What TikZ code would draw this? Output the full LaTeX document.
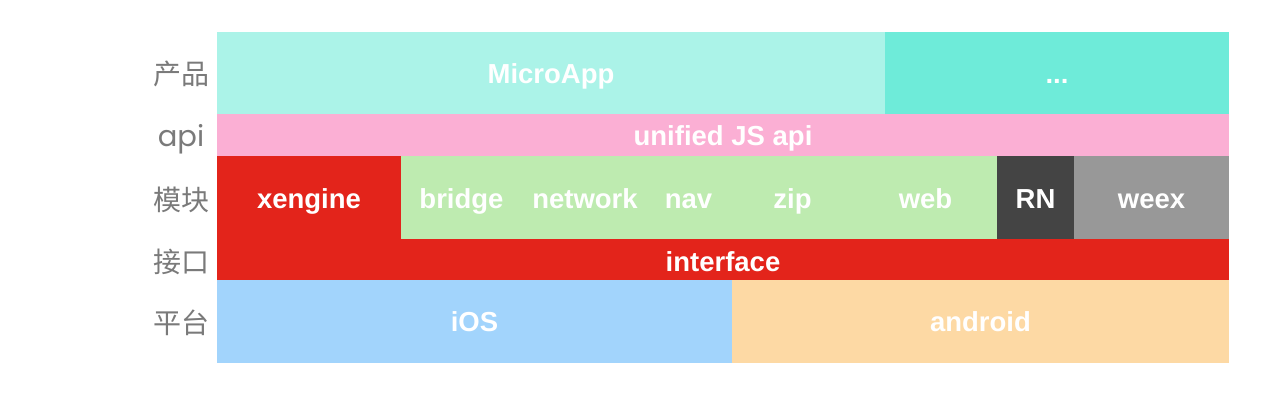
\documentclass[tikz,border=0pt]{standalone}
\usepackage{fontspec}
\setmainfont{Liberation Sans}
\newfontfamily\cjkfont{Noto Sans CJK SC}
\newfontfamily\apifont{Poppins}
\definecolor{cMicro}{HTML}{ABF3E8}
\definecolor{cDots}{HTML}{6EEBD9}
\definecolor{cPink}{HTML}{FBAFD4}
\definecolor{cRed}{HTML}{E3241B}
\definecolor{cGreen}{HTML}{BEEBB0}
\definecolor{cRN}{HTML}{444444}
\definecolor{cWeex}{HTML}{989898}
\definecolor{cIOS}{HTML}{A2D4FC}
\definecolor{cAndroid}{HTML}{FDD9A4}
\definecolor{cSide}{HTML}{7A7A7A}
\begin{document}
\begin{tikzpicture}[x=1pt,y=-1pt,
  blk/.style={draw=none, inner sep=0pt, outer sep=0pt},
  lbl/.style={text=white, font=\fontsize{27.5}{30}\selectfont\bfseries, anchor=base, inner sep=0pt},
  side/.style={text=cSide, font=\cjkfont\fontsize{28}{30}\selectfont, inner sep=0pt, anchor=east},
  sideapi/.style={text=cSide, font=\apifont\fontsize{29}{30}\selectfont, inner sep=0pt, anchor=base}]
\fill[white] (0,0) rectangle (1279,410);
\useasboundingbox (0,0) rectangle (1279,410);
% row 1
\node[blk, fill=cMicro, minimum width=668pt, minimum height=82pt] (microapp) at (551,73) {};
\node[blk, fill=cDots, minimum width=344pt, minimum height=82pt] (dots) at (1057,73) {};
% row 2
\node[blk, fill=cPink, minimum width=1012pt, minimum height=42pt] (api) at (723,135) {};
% row 3
\node[blk, fill=cRed, minimum width=184pt, minimum height=83pt] (xengine) at (309,197.5) {};
\node[blk, fill=cGreen, minimum width=596pt, minimum height=83pt] (green) at (699,197.5) {};
\node[blk, fill=cRN, minimum width=77pt, minimum height=83pt] (rn) at (1035.5,197.5) {};
\node[blk, fill=cWeex, minimum width=155pt, minimum height=83pt] (weex) at (1151.5,197.5) {};
% row 4
\node[blk, fill=cRed, minimum width=1012pt, minimum height=41.5pt] (interface) at (723,259.5) {};
% row 5
\node[blk, fill=cIOS, minimum width=515pt, minimum height=83pt] (ios) at (474.5,321.5) {};
\node[blk, fill=cAndroid, minimum width=497pt, minimum height=83pt] (android) at (980.5,321.5) {};
% texts
\node[lbl] (tmicro) at (551,83) {MicroApp};
\node[lbl] (tdots) at (1057,83) {...};
\node[lbl] (tapi) at (723,145) {unified JS api};
\node[lbl] (txengine) at (309,208) {xengine};
\node[lbl] (tbridge) at (461.5,208) {bridge};
\node[lbl] (tnetwork) at (585,208) {network};
\node[lbl] (tnav) at (688.5,208) {nav};
\node[lbl] (tzip) at (792.5,208) {zip};
\node[lbl] (tweb) at (925.5,208) {web};
\node[lbl] (trn) at (1035.5,208) {RN};
\node[lbl] (tweex) at (1151.5,208) {weex};
\node[lbl] (tinterface) at (723,271.5) {interface};
\node[lbl] (tios) at (474.5,331.5) {iOS};
\node[lbl] (tandroid) at (980.5,331.5) {android};
% side labels
\node[side] (s1) at (210,74) {产品};
\node[sideapi] (s2) at (181,146) {api};
\node[side] (s3) at (210,200) {模块};
\node[side] (s4) at (210,262) {接口};
\node[side] (s5) at (210,323) {平台};
\end{tikzpicture}
\end{document}
